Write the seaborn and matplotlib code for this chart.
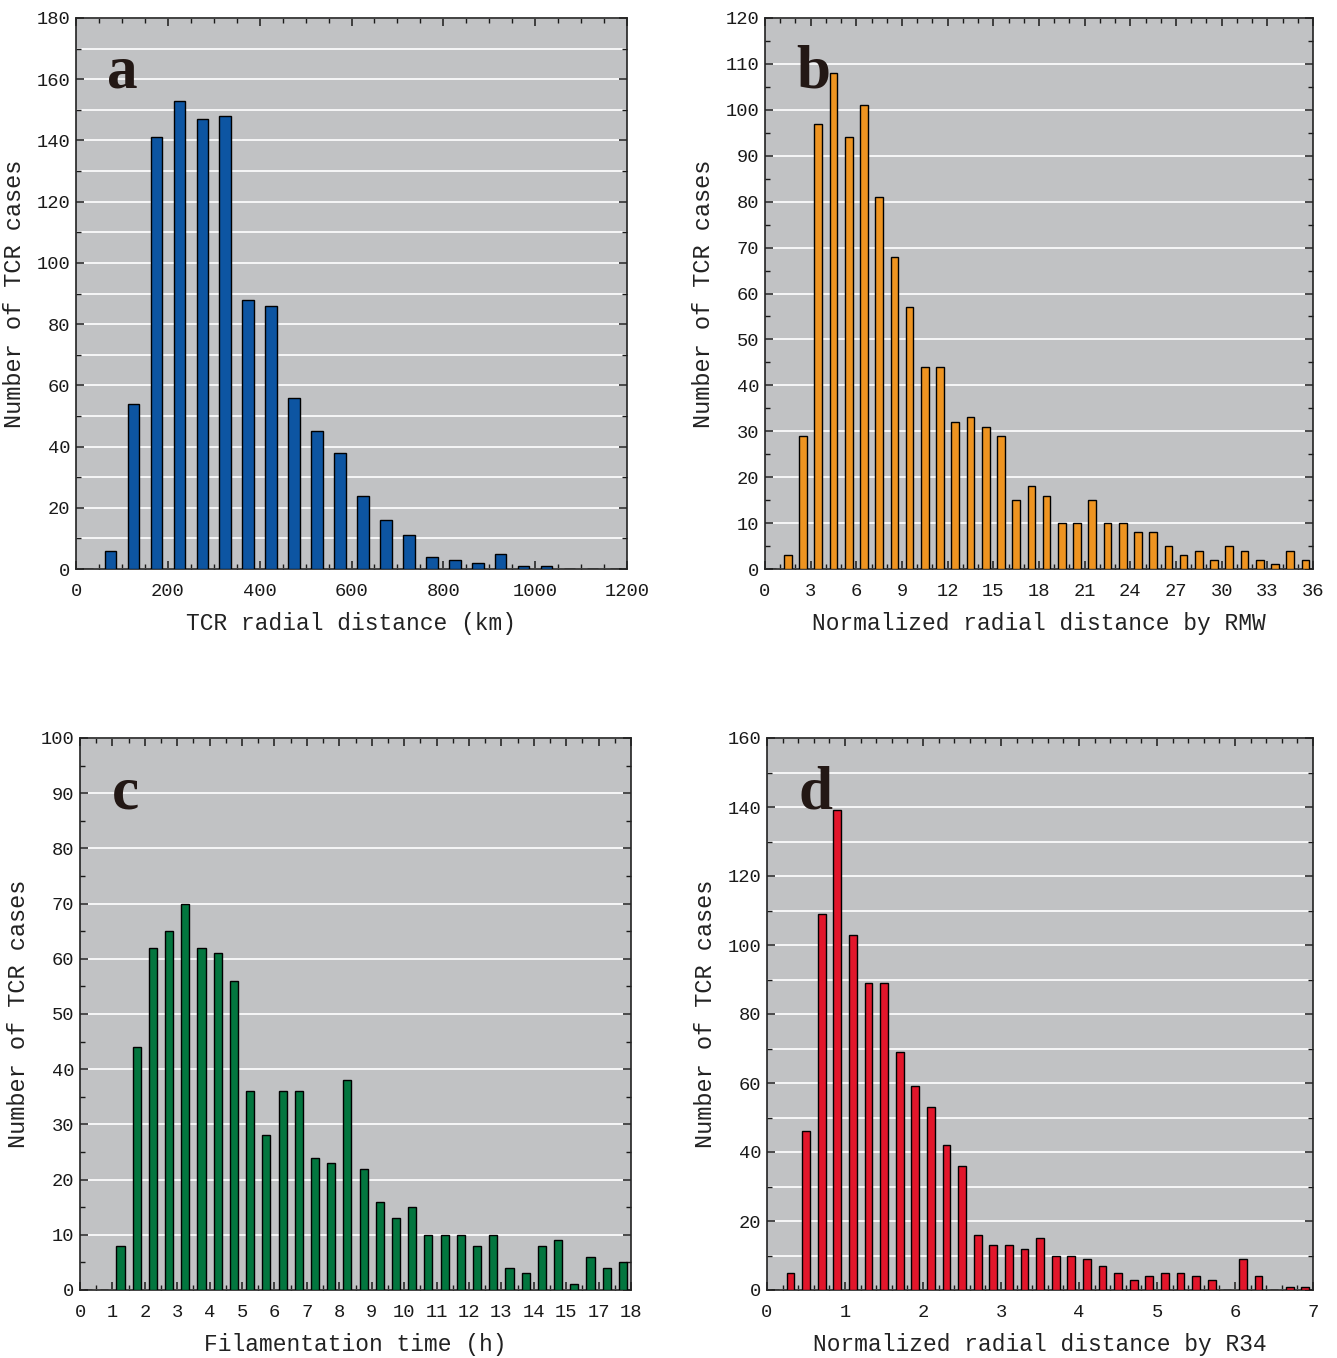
import numpy as np
import pandas as pd
import matplotlib
matplotlib.use("Agg")
import matplotlib.pyplot as plt
import seaborn as sns
from matplotlib.ticker import MultipleLocator

sns.set_theme(style="ticks")
plt.rcParams['font.family'] = ['Liberation Mono', 'DejaVu Sans Mono']

# ---- data ----
# (a) TCR radial distance, 50 km bins starting at 0
a_counts = [0, 6, 54, 141, 153, 147, 148, 88, 86, 56, 45, 38, 24, 16, 11, 4, 3, 2, 5, 1, 1, 0, 0, 0]
# (b) normalized by RMW, bins of 1
b_counts = [0, 3, 29, 97, 108, 94, 101, 81, 68, 57, 44, 44, 32, 33, 31, 29, 15, 18, 16, 10,
            10, 15, 10, 10, 8, 8, 5, 3, 4, 2, 5, 4, 2, 1, 4, 2]
# (c) filamentation time, 0.5 h bins (axis spans 17 tick intervals)
c_counts = [0, 0, 8, 44, 62, 65, 70, 62, 61, 56, 36, 28, 36, 36, 24, 23, 38, 22, 16, 13,
            15, 10, 10, 10, 8, 10, 4, 3, 8, 9, 1, 6, 4, 5]
c_tick_labels = ["0", "1", "2", "3", "4", "5", "6", "7", "8", "9", "10", "11", "12", "13",
                 "14", "15", "17", "18"]
# (d) normalized by R34, bins of 0.2
d_counts = [0, 5, 46, 109, 139, 103, 89, 89, 69, 59, 53, 42, 36, 16, 13, 13, 12, 15, 10, 10,
            9, 7, 5, 3, 4, 5, 5, 4, 3, 0, 9, 4, 0, 1, 1]

x_labels = ["TCR radial distance (km)", "Normalized radial distance by RMW",
            "Filamentation time (h)", "Normalized radial distance by R34"]
y_label = "Number of TCR cases"
panel_letters = ["a", "b", "c", "d"]
colors = ["#0d55a2", "#ee9421", "#03763f", "#e2162b"]

# panel specs: counts, x range, y max, x major, x minor, y major, y minor, grid which
specs = [
    (a_counts, 0, 1200, 180, 200, 50, 20, 10, "both"),
    (b_counts, 0, 36, 120, 3, 1, 10, 5, "major"),
    (c_counts, 0, 17, 100, 1, 0.5, 10, 5, "major"),
    (d_counts, 0, 7, 160, 1, 0.2, 20, 10, "both"),
]

W, H = 1337, 1358
fig = plt.figure(figsize=(W / 100, H / 100), dpi=100)

# axes boxes in pixels: left, right, top, bottom
boxes = [(76, 627, 18, 569), (765, 1313, 18, 569), (80, 631, 738, 1290), (767, 1313, 738, 1290)]

bg = "#c1c2c4"
for i, (spec, box) in enumerate(zip(specs, boxes)):
    counts, x0, x1, ymax, xmaj, xmin_, ymaj, ymin_, gwhich = spec
    l, r, t, b = box
    ax = fig.add_axes([l / W, 1 - b / H, (r - l) / W, (b - t) / H])
    ax.set_facecolor(bg)
    n = len(counts)
    edges = np.linspace(x0, x1, n + 1)
    centers = 0.5 * (edges[:-1] + edges[1:])
    df = pd.DataFrame({"x": centers, "y": np.asarray(counts, dtype=float)})
    sns.barplot(data=df, x="x", y="y", native_scale=True, width=0.5, color=colors[i],
                saturation=1, edgecolor="black", linewidth=1.0, ax=ax, zorder=3,
                errorbar=None)
    ax.set_xlim(x0, x1)
    ax.set_ylim(0, ymax)
    ax.xaxis.set_major_locator(MultipleLocator(xmaj))
    ax.xaxis.set_minor_locator(MultipleLocator(xmin_))
    ax.yaxis.set_major_locator(MultipleLocator(ymaj))
    ax.yaxis.set_minor_locator(MultipleLocator(ymin_))
    if i == 2:
        ax.set_xticks(np.arange(len(c_tick_labels)))
        ax.set_xticklabels(c_tick_labels)
    ax.grid(axis="y", which=gwhich, color="white", linewidth=1.2, zorder=1)
    ax.set_axisbelow(True)
    ax.tick_params(which="both", direction="in", top=True, right=True, colors="#1a1a1a",
                   labelsize=13.5)
    ax.tick_params(axis="x", which="major", pad=10)
    ax.tick_params(axis="y", which="major", pad=4)
    ax.tick_params(which="major", length=6, width=1.1)
    ax.tick_params(which="minor", length=3.5, width=1.0)
    for s in ax.spines.values():
        s.set_linewidth(1.2)
        s.set_color("#222222")
    ax.set_xlabel(x_labels[i], fontsize=16.5, color="#222222", labelpad=9)
    ax.set_ylabel(y_label, fontsize=17, color="#222222", labelpad=8)
    ax.text(0.057, 0.873, panel_letters[i], transform=ax.transAxes, fontsize=44,
            fontweight="bold", family="Liberation Serif", color="#231815", zorder=5)

fig.savefig("out.png", dpi=100)
